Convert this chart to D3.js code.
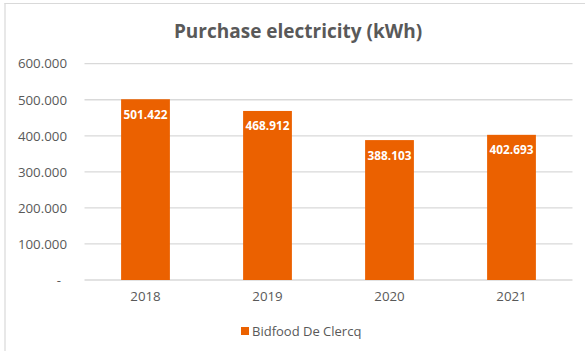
<!DOCTYPE html>
<html>
<head>
<meta charset="utf-8">
<script src="https://cdn.jsdelivr.net/npm/d3@7"></script>
<style>
  html, body { margin: 0; padding: 0; background: #fff; }
  svg { display: block; }
</style>
</head>
<body>
<svg id="chart" width="585" height="351"></svg>
<script>
// Annual electricity purchased, kWh
const years = ["2018", "2019", "2020", "2021"];
const purchased = [501422, 468912, 388103, 402693];
const yTicks = [0, 100000, 200000, 300000, 400000, 500000, 600000];
const seriesName = "Bidfood De Clercq";
const chartTitle = "Purchase electricity (kWh)";

const W = 585, H = 351;
const plot = { left: 84.5, right: 572.5, top: 63.7, bottom: 280 };
const barColor = "#EB6100";
const textColor = "#595959";
const gridColor = "#d9d9d9";
const font = "'Open Sans', 'Noto Sans', sans-serif";

// thousands separated by dots, zero shown as a dash
const fmtNum = v => v === 0 ? "-" : d3.format(",")(v).replace(/,/g, ".");

const svg = d3.select("#chart");

// chart area frame
svg.append("line").attr("x1", 4.5).attr("x2", W).attr("y1", 3.5).attr("y2", 3.5)
  .attr("stroke", gridColor).attr("stroke-width", 1.2);
svg.append("line").attr("x1", 5).attr("x2", 5).attr("y1", 3).attr("y2", H)
  .attr("stroke", gridColor).attr("stroke-width", 1.2);

const x = d3.scaleBand().domain(years)
  .range([plot.left, plot.right]).paddingInner(0.6).paddingOuter(0.3);
const y = d3.scaleLinear().domain([0, 600000]).range([plot.bottom, plot.top]);

// gridlines
svg.append("g").selectAll("line").data(yTicks).join("line")
  .attr("x1", plot.left).attr("x2", plot.right)
  .attr("y1", d => y(d)).attr("y2", d => y(d))
  .attr("stroke", gridColor).attr("stroke-width", 1.3);

// y axis labels
const yAxis = d3.axisLeft(y).tickValues(yTicks).tickSize(0).tickPadding(0).tickFormat(fmtNum);
const gy = svg.append("g").attr("transform", `translate(${plot.left - 17.5},0)`).call(yAxis);
gy.select(".domain").remove();
gy.selectAll("text")
  .attr("fill", textColor).attr("font-family", font).attr("font-size", 13.3);
gy.selectAll("text").filter(d => d === 0).attr("dx", -6);

// x axis labels
const xAxis = d3.axisBottom(x).tickSize(0).tickPadding(0);
const gx = svg.append("g").attr("transform", `translate(0,${plot.bottom + 12})`).call(xAxis);
gx.select(".domain").remove();
gx.selectAll("text").attr("fill", textColor).attr("font-family", font).attr("font-size", 13.3);

// bars
svg.append("g").selectAll("rect").data(purchased).join("rect")
  .attr("x", (d, i) => x(years[i]))
  .attr("width", x.bandwidth())
  .attr("y", d => y(d))
  .attr("height", d => y(0) - y(d))
  .attr("fill", barColor);

// value labels inside bar tops
svg.append("g").selectAll("text").data(purchased).join("text")
  .attr("x", (d, i) => x(years[i]) + x.bandwidth() / 2)
  .attr("y", d => y(d) + 19.5)
  .attr("text-anchor", "middle")
  .attr("fill", "#fff").attr("font-family", font).attr("font-weight", 700)
  .attr("font-size", 11.8)
  .text(fmtNum);

// title
svg.append("text")
  .attr("x", 298).attr("y", 38)
  .attr("text-anchor", "middle")
  .attr("fill", textColor).attr("font-family", font).attr("font-weight", 700)
  .attr("font-size", 19)
  .text(chartTitle);

// legend
const lg = svg.append("g").attr("transform", "translate(241,327)");
lg.append("rect").attr("width", 8).attr("height", 8).attr("fill", barColor);
lg.append("text").attr("x", 11).attr("y", 8.5)
  .attr("fill", textColor).attr("font-family", font).attr("font-size", 13)
  .text(seriesName);
</script>
</body>
</html>
